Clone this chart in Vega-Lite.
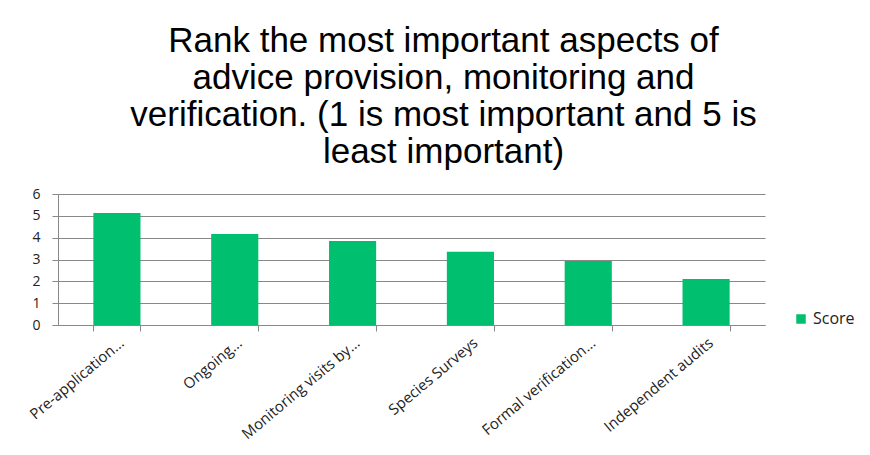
{
  "$schema": "https://vega.github.io/schema/vega-lite/v6.json",
  "width": 707,
  "height": 131,
  "padding": {"left": 27, "top": 24, "right": 5, "bottom": 5},
  "background": "white",
  "config": {"view": {"stroke": null}},
  "title": {
    "text": ["Rank the most important aspects of", "advice provision, monitoring and", "verification. (1 is most important and 5 is", "least important)"],
    "font": "Liberation Sans",
    "fontSize": 35,
    "fontWeight": "normal",
    "color": "#000000",
    "lineHeight": 37,
    "dx": 32,
    "offset": 17
  },
  "data": {
    "values": [
      {"aspect": "Pre-application...", "score": 5.13, "series": "Score"},
      {"aspect": "Ongoing...", "score": 4.17, "series": "Score"},
      {"aspect": "Monitoring visits by...", "score": 3.85, "series": "Score"},
      {"aspect": "Species Surveys", "score": 3.35, "series": "Score"},
      {"aspect": "Formal verification...", "score": 2.93, "series": "Score"},
      {"aspect": "Independent audits", "score": 2.11, "series": "Score"}
    ]
  },
  "mark": {"type": "bar"},
  "encoding": {
    "x": {
      "field": "aspect",
      "type": "nominal",
      "sort": null,
      "scale": {"paddingInner": 0.6, "paddingOuter": 0.3},
      "axis": {
        "title": null,
        "labelAngle": -40,
        "labelFont": "Open Sans",
        "labelFontSize": 15,
        "labelColor": "#222222",
        "labelPadding": 4,
        "tickBand": "extent",
        "tickSize": 6,
        "tickColor": "#888888",
        "domainColor": "#888888",
        "labelLimit": 300
      }
    },
    "y": {
      "field": "score",
      "type": "quantitative",
      "scale": {"domain": [0, 6]},
      "axis": {
        "title": null,
        "values": [0, 1, 2, 3, 4, 5, 6],
        "labelFont": "Open Sans",
        "labelFontSize": 14,
        "labelColor": "#222222",
        "labelPadding": 12,
        "tickSize": 6,
        "tickColor": "#888888",
        "domain": true,
        "domainColor": "#888888",
        "grid": true,
        "gridColor": "#888888",
        "gridOpacity": 1
      }
    },
    "color": {
      "field": "series",
      "type": "nominal",
      "scale": {"range": ["#00BF6F"]},
      "legend": {
        "title": null,
        "orient": "none",
        "legendX": 735,
        "legendY": 117,
        "symbolType": "square",
        "symbolSize": 90,
        "symbolStrokeWidth": 0,
        "labelFont": "Open Sans",
        "labelFontSize": 16,
        "labelColor": "#222222"
      }
    }
  }
}
